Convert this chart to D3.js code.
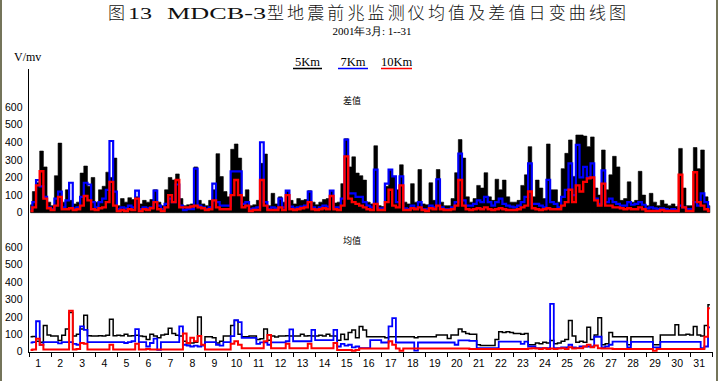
<!DOCTYPE html>
<html><head><meta charset="utf-8">
<script src="https://cdn.jsdelivr.net/npm/d3@7"></script>
<style>body{margin:0;background:#fff}svg{display:block}</style>
</head><body><svg id="c" width="718" height="381"></svg>
<script>
const dayLabels = ["1","2","3","4","5","6","7","8","9","10","11","12","13","14","15","16","17","18","19","20","21","22","23","24","25","26","27","28","29","30","31"];
const yTickValues = [0,100,200,300,400,500,600];
const seriesNames = ["5Km","7Km","10Km"];
const seriesColors = ["#000000","#0000ff","#ff0000"];
const samplesPerDay = 6;

// 差值 (difference) — 6 readings per day
const diff5 = [
45,120,170,350,260,60, 40,210,395,60,130,70, 50,60,225,265,150,200, 60,130,150,230,200,310,
40,80,60,85,75,90, 50,70,60,75,130,60, 40,130,200,186,220,80, 40,45,50,260,70,50,
40,70,130,335,205,120, 90,360,390,310,90,130, 40,45,70,280,333,40, 110,50,90,60,125,70,
50,80,70,75,125,60, 45,60,75,80,125,55, 60,165,420,260,317,225, 210,185,60,50,380,40,
35,150,245,206,130,272, 60,50,165,60,245,50, 45,170,70,245,60,40, 40,80,227,415,310,90,
60,80,155,140,227,90, 70,190,130,185,90,60, 60,70,155,215,375,90, 185,140,80,390,130,130,
60,250,337,413,206,441, 441,435,375,430,140,100, 356,130,215,320,260,70, 80,175,60,70,235,100,
40,110,60,40,70,50, 40,50,35,365,140,40, 40,370,250,356,90,40];
const diff7 = [
20,60,185,150,90,30, 20,80,120,30,70,170, 25,30,90,170,160,60, 30,60,80,130,407,120,
20,30,25,40,30,125, 20,30,25,30,125,40, 20,50,80,60,160,40, 15,20,20,250,40,30,
20,30,165,60,40,40, 40,235,235,235,50,60, 20,25,30,400,60,20, 30,25,80,30,125,35,
25,30,35,40,120,30, 20,30,40,35,125,30, 30,80,415,110,110,90, 90,60,40,30,245,25,
25,165,245,206,60,206, 25,20,40,25,60,20, 20,40,30,190,30,20, 20,30,60,335,70,40,
40,50,70,60,90,60, 40,60,80,50,40,35, 30,40,60,90,280,50, 50,40,30,186,60,50,
30,90,130,280,100,385, 200,260,200,280,80,50, 240,60,80,60,50,40, 40,60,45,50,60,45,
25,30,25,20,25,20, 15,20,15,40,30,20, 20,60,40,110,60,30];
const diff10 = [
10,30,155,235,80,25, 15,40,90,20,20,25, 15,20,40,95,70,20, 15,25,30,60,175,40,
10,15,10,20,15,80, 10,20,15,25,60,20, 10,30,100,60,186,30, 30,30,35,40,30,25,
15,20,70,30,20,20, 20,100,186,100,30,40, 10,15,15,186,40,15, 15,15,30,15,100,20,
15,20,25,30,60,20, 15,20,25,20,95,20, 15,40,320,80,60,50, 40,30,20,15,50,15,
15,60,130,40,30,155, 15,15,25,20,30,15, 10,25,20,40,20,15, 15,20,40,186,40,20,
15,20,25,20,30,20, 15,20,25,20,15,15, 15,20,30,40,120,25, 20,15,20,25,20,20,
20,40,60,130,60,155, 120,175,195,200,70,40, 165,40,40,30,30,25, 20,25,20,20,30,20,
10,10,10,10,15,10, 10,10,10,215,30,10, 10,230,60,40,20,10];

// 均值 (mean) — 6 readings per day
const mean5 = [
86,88,60,55,150,96, 90,90,65,95,130,225, 90,100,130,210,92,90, 90,92,90,95,186,92,
95,92,100,90,92,95, 90,88,70,100,90,80, 96,100,135,105,95,90, 60,45,50,55,200,40,
86,86,80,50,60,90, 90,150,180,100,86,86, 90,90,70,75,130,66, 90,85,90,90,92,90,
90,90,100,90,92,90, 90,95,90,100,90,90, 66,100,70,110,125,80, 145,125,86,86,86,86,
86,80,86,86,86,86, 86,86,86,80,86,86, 86,86,86,96,96,96, 76,96,96,130,115,105,
100,100,40,35,35,35, 35,70,115,110,115,110, 105,105,100,105,40,40, 50,45,55,50,65,45,
50,60,70,180,90,55, 60,55,140,70,96,195, 40,45,110,86,86,86, 86,40,86,86,86,86,
86,86,40,40,96,96, 96,96,155,96,96,100, 96,145,96,90,150,270];
const mean7 = [
52,55,175,40,55,55, 55,55,48,55,55,55, 45,40,145,125,55,55, 55,55,55,55,55,55,
55,55,50,55,60,130, 55,55,30,50,75,10, 55,55,55,55,55,145, 40,35,30,35,30,35,
55,55,55,40,35,55, 55,90,182,170,80,80, 80,80,45,54,54,40, 54,54,54,54,60,128,
60,60,60,60,60,125, 66,66,66,66,66,125, 30,45,35,40,25,30, 20,20,20,66,66,66,
53,53,145,193,53,53, 53,53,53,6,53,53, 53,53,53,53,53,53, 53,53,40,65,65,65,
62,62,20,20,20,20, 20,20,58,58,58,58, 58,58,45,58,30,30, 20,20,20,20,275,20,
20,25,25,40,25,20, 30,30,30,30,86,86, 25,30,40,58,58,58, 58,25,56,56,56,56,
56,56,25,25,56,56, 56,56,56,56,56,56, 56,56,56,20,30,140];
const mean10 = [
10,12,75,40,12,12, 12,12,12,12,12,235, 12,15,50,45,12,12, 12,12,12,12,40,12,
12,12,12,12,12,45, 12,12,15,12,12,12, 12,12,12,12,12,12, 105,50,80,60,90,40,
12,12,12,12,12,12, 12,45,60,40,20,20, 20,20,20,20,60,96, 20,20,20,20,45,20,
20,20,20,20,45,20, 20,20,20,20,20,50, 10,10,10,10,5,10, 18,18,18,18,18,18,
18,18,60,40,18,5, 18,18,18,18,18,18, 18,18,18,18,18,18, 18,18,18,18,18,18,
16,16,16,16,16,16, 16,16,16,16,16,16, 16,16,16,16,18,20, 18,15,20,15,18,15,
18,20,15,25,18,20, 20,30,40,25,35,20, 18,18,18,16,16,16, 16,16,16,16,16,16,
16,16,5,16,16,16, 16,16,16,16,16,16, 16,16,16,16,86,250];

const svg = d3.select("#c");
const sans = "'Liberation Sans', Arial, sans-serif";
const serif = "'Liberation Serif', 'Times New Roman', serif";
const cjk = "'Noto Sans CJK SC', sans-serif";

// frame edges
svg.append("rect").attr("x",0).attr("y",0).attr("width",2).attr("height",381).attr("fill","#74745a");
svg.append("rect").attr("x",716).attr("y",0).attr("width",2).attr("height",381).attr("fill","#74745a");

// title
const title = svg.append("g").attr("fill","#111");
title.append("text").attr("x",108).attr("y",19).attr("font-family",cjk).attr("font-weight",300).attr("font-size",17).text("图");
title.append("text").attr("x",128).attr("y",19).attr("font-family",serif).attr("font-size",17)
  .attr("textLength",24).attr("lengthAdjust","spacingAndGlyphs").text("13");
title.append("text").attr("x",167).attr("y",19).attr("font-family",serif).attr("font-size",17)
  .attr("textLength",99).attr("lengthAdjust","spacingAndGlyphs").text("MDCB-3");
title.append("text").attr("x",267).attr("y",19).attr("font-family",cjk).attr("font-weight",300).attr("font-size",17)
  .attr("textLength",359).attr("lengthAdjust","spacing").text("型地震前兆监测仪均值及差值日变曲线图");
svg.append("text").attr("x",372).attr("y",35).attr("text-anchor","middle").attr("font-family",serif)
  .attr("font-size",11).text("2001年3月: 1--31");

svg.append("text").attr("x",14).attr("y",61).attr("font-family",serif).attr("font-size",12).text("V/mv");

// legend
const legX = [293,338,381], legW = [29,30,31];
seriesNames.forEach((n,i)=>{
  svg.append("text").attr("x",legX[i]+legW[i]/2).attr("y",66).attr("text-anchor","middle")
    .attr("font-family",serif).attr("font-size",12.5).text(n);
  svg.append("line").attr("x1",legX[i]).attr("x2",legX[i]+legW[i]).attr("y1",68.5).attr("y2",68.5)
    .attr("stroke",seriesColors[i]).attr("stroke-width",1.5);
});

const x = d3.scaleLinear().domain([0,31]).range([28.7,711.7]);
const yTop = d3.scaleLinear().domain([0,600]).range([212.7,107]);
const yBot = d3.scaleLinear().domain([0,600]).range([351.7,247.3]);
const xi = (d,i)=>x(i/samplesPerDay + 0.5/samplesPerDay);

function drawSeries(arr, yS, color, w){
  const line = d3.line().x(xi).y(d=>yS(d)).curve(d3.curveStep);
  svg.append("path").datum(arr).attr("d",line).attr("fill","none")
    .attr("stroke",color).attr("stroke-width",w).attr("stroke-linejoin","miter");
}
function drawFilled(arr, yS, color){
  const area = d3.area().x(xi).y0(yS(0)).y1(d=>yS(d)).curve(d3.curveStep);
  svg.append("path").datum(arr).attr("d",area).attr("fill",color).attr("stroke",color).attr("stroke-width",0.6);
}
drawFilled(diff5, yTop, seriesColors[0]);
drawSeries(diff7, yTop, seriesColors[1], 2.2);
drawSeries(diff10, yTop, seriesColors[2], 2.4);
[mean5,mean7,mean10].forEach((a,i)=>drawSeries(a,yBot,seriesColors[i],[1.5,1.8,2][i]));

// y axis labels
[yTop,yBot].forEach(ys=>{
  yTickValues.forEach(v=>{
    svg.append("text").attr("x",22.5).attr("y",ys(v)).attr("dy","0.36em").attr("text-anchor","end")
      .attr("font-family",sans).attr("font-size",10.5).text(v);
  });
});
svg.append("text").attr("x",352).attr("y",104).attr("text-anchor","middle").attr("font-family",cjk).attr("font-size",9).text("差值");
svg.append("text").attr("x",352).attr("y",244).attr("text-anchor","middle").attr("font-family",cjk).attr("font-size",9).text("均值");

// axes
svg.append("line").attr("x1",28.5).attr("x2",28.5).attr("y1",69).attr("y2",352.5)
  .attr("stroke","#000").attr("stroke-width",1).attr("shape-rendering","crispEdges");
const xAxis = d3.axisBottom(x).tickValues(d3.range(1,32)).tickSize(5).tickFormat("");
const gx = svg.append("g").attr("transform","translate(0,352)").call(xAxis);
gx.select(".domain").attr("stroke","#000").attr("shape-rendering","crispEdges");
gx.selectAll(".tick line").attr("stroke","#000").attr("shape-rendering","crispEdges");
dayLabels.forEach((lab,i)=>{
  svg.append("text").attr("x",x(i+0.5)-1.5).attr("y",366.5).attr("text-anchor","middle")
    .attr("font-family",sans).attr("font-size",10.5).text(lab);
});
</script></body></html>
